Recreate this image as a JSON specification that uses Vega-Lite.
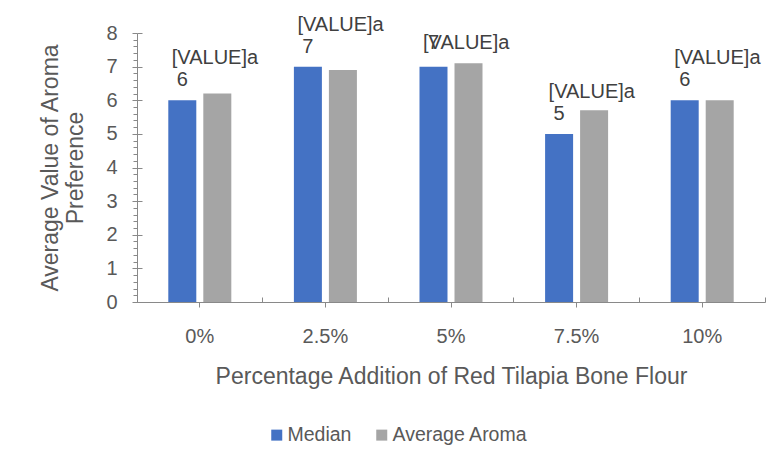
{
  "$schema": "https://vega.github.io/schema/vega-lite/v6.json",
  "width": 628,
  "height": 269,
  "autosize": {"type": "none"},
  "padding": {"top": 33, "left": 137, "right": 12, "bottom": 159},
  "background": "white",
  "config": {
    "view": {"stroke": null},
    "font": "Liberation Sans",
    "axis": {
      "grid": false,
      "domainColor": "#898989",
      "tickColor": "#898989",
      "labelColor": "#595959",
      "titleColor": "#595959",
      "labelFont": "Liberation Sans",
      "titleFont": "Liberation Sans",
      "titleFontWeight": "normal"
    },
    "legend": {"labelFont": "Liberation Sans"}
  },
  "data": {
    "values": [
      {"pct": "0%", "series": "Median", "value": 6},
      {"pct": "0%", "series": "Average Aroma", "value": 6.2},
      {"pct": "2.5%", "series": "Median", "value": 7},
      {"pct": "2.5%", "series": "Average Aroma", "value": 6.9},
      {"pct": "5%", "series": "Median", "value": 7},
      {"pct": "5%", "series": "Average Aroma", "value": 7.1},
      {"pct": "7.5%", "series": "Median", "value": 5},
      {"pct": "7.5%", "series": "Average Aroma", "value": 5.7},
      {"pct": "10%", "series": "Median", "value": 6},
      {"pct": "10%", "series": "Average Aroma", "value": 6}
    ]
  },
  "resolve": {"axis": {"x": "independent", "y": "independent"}},
  "layer": [
    {
      "mark": {"type": "bar"},
      "encoding": {
        "x": {
          "field": "pct", "type": "nominal",
          "sort": ["0%", "2.5%", "5%", "7.5%", "10%"],
          "scale": {"paddingInner": 0, "paddingOuter": 0},
          "axis": {
            "orient": "bottom",
            "title": "Percentage Addition of Red Tilapia Bone Flour",
            "labelAngle": 0, "labelFontSize": 20, "tickSize": 5, "labelPadding": 19,
            "titleFontSize": 23, "titlePadding": 19
          }
        },
        "xOffset": {
          "field": "series", "type": "nominal",
          "sort": ["Median", "Average Aroma"],
          "scale": {"paddingInner": 0.2, "paddingOuter": 0.894}
        },
        "y": {
          "field": "value", "type": "quantitative",
          "scale": {"domain": [0, 8], "nice": false},
          "axis": {
            "orient": "left",
            "values": [0, 1, 2, 3, 4, 5, 6, 7, 8],
            "title": ["Average Value of Aroma", "Preference"],
            "labelFontSize": 20, "tickSize": 5, "labelPadding": 15,
            "titleFontSize": 23, "titleLineHeight": 25, "titlePadding": 18
          }
        },
        "color": {
          "field": "series", "type": "nominal",
          "scale": {"domain": ["Median", "Average Aroma"], "range": ["#4472C4", "#A5A5A5"]},
          "legend": {
            "orient": "none", "legendX": 130, "legendY": 392, "direction": "horizontal",
            "title": null, "symbolType": "square", "symbolSize": 121, "symbolStrokeWidth": 0,
            "labelFontSize": 19.5, "labelColor": "#595959", "labelOffset": 1, "columnPadding": 20
          }
        }
      }
    },
    {
      "transform": [{"filter": "datum.series == 'Median' && datum.pct != '5%'"}],
      "mark": {"type": "text", "fontSize": 20, "color": "#404040", "dx": -17.5, "dy": -20, "baseline": "middle", "align": "center"},
      "encoding": {
        "x": {
          "field": "pct", "type": "nominal",
          "sort": ["0%", "2.5%", "5%", "7.5%", "10%"],
          "axis": {"orient": "bottom", "bandPosition": 1, "tickExtra": true, "tickSize": -5, "labels": false, "domain": false, "title": null}
        },
        "y": {
          "field": "value", "type": "quantitative",
          "axis": {
            "orient": "left",
            "values": [0.2, 0.4, 0.6, 0.8, 1.2, 1.4, 1.6, 1.8, 2.2, 2.4, 2.6, 2.8, 3.2, 3.4, 3.6, 3.8, 4.2, 4.4, 4.6, 4.8, 5.2, 5.4, 5.6, 5.8, 6.2, 6.4, 6.6, 6.8, 7.2, 7.4, 7.6, 7.8],
            "tickSize": 4, "labels": false, "domain": false, "title": null
          }
        },
        "text": {"field": "value", "type": "quantitative"}
      }
    },
    {
      "transform": [{"filter": "datum.series == 'Median' && datum.pct != '5%'"}],
      "mark": {"type": "text", "text": "[VALUE]a", "fontSize": 20, "color": "#404040", "dx": -28, "dy": -42, "baseline": "middle", "align": "left"},
      "encoding": {
        "x": {"field": "pct", "type": "nominal", "sort": ["0%", "2.5%", "5%", "7.5%", "10%"], "axis": null},
        "y": {
          "field": "value", "type": "quantitative",
          "axis": {"orient": "left", "values": [0, 1, 2, 3, 4, 5, 6, 7, 8], "tickSize": -5, "labels": false, "domain": false, "title": null}
        }
      }
    },
    {
      "transform": [{"filter": "datum.series == 'Median' && datum.pct == '5%'"}],
      "mark": {"type": "text", "fontSize": 20, "color": "#404040", "dx": -17.5, "dy": -24, "baseline": "middle", "align": "center"},
      "encoding": {
        "x": {"field": "pct", "type": "nominal", "sort": ["0%", "2.5%", "5%", "7.5%", "10%"], "axis": null},
        "y": {"field": "value", "type": "quantitative", "axis": null},
        "text": {"field": "value", "type": "quantitative"}
      }
    },
    {
      "transform": [{"filter": "datum.series == 'Median' && datum.pct == '5%'"}],
      "mark": {"type": "text", "text": "[VALUE]a", "fontSize": 20, "color": "#404040", "dx": -28, "dy": -24, "baseline": "middle", "align": "left"},
      "encoding": {
        "x": {"field": "pct", "type": "nominal", "sort": ["0%", "2.5%", "5%", "7.5%", "10%"], "axis": null},
        "y": {"field": "value", "type": "quantitative", "axis": null}
      }
    }
  ]
}
